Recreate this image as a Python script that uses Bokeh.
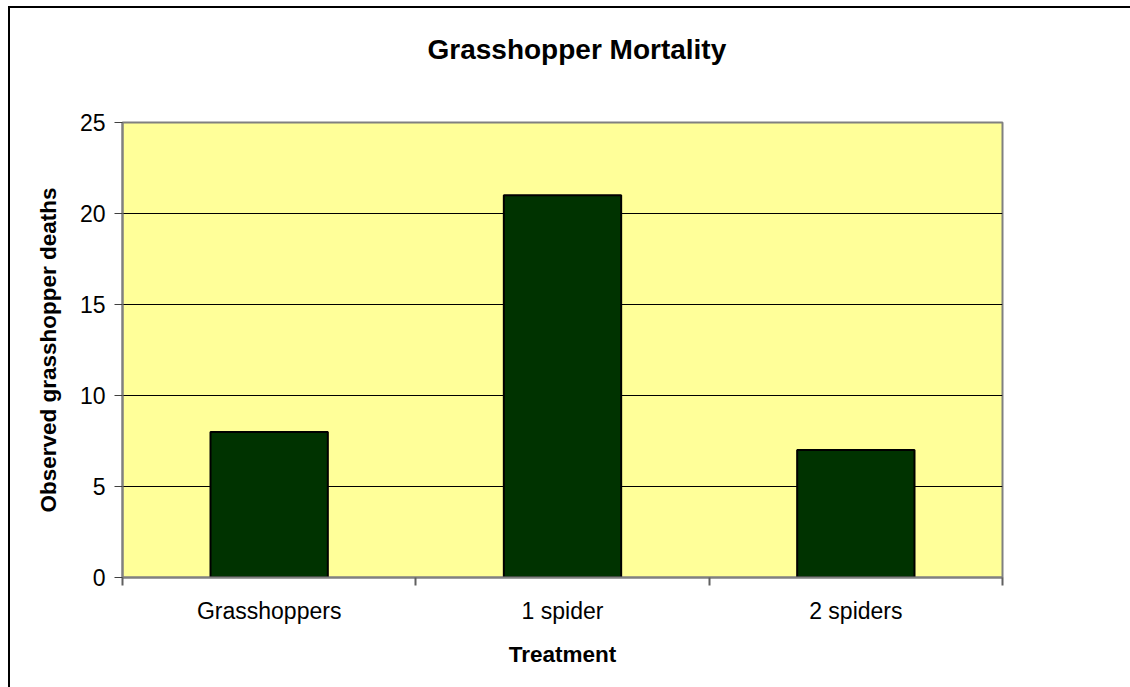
from bokeh.plotting import figure
from bokeh.models import FixedTicker, Range1d, ColumnDataSource, Title
from bokeh.embed import file_html
from bokeh.resources import INLINE

title_text = "Grasshopper Mortality"
categories = ["Grasshoppers", "1 spider", "2 spiders"]
deaths = [8, 21, 7]
y_ticks = [0, 5, 10, 15, 20, 25]

positions = [i + 0.5 for i in range(len(categories))]
src = ColumnDataSource(dict(x=positions, top=deaths, cat=categories))

FONT = "Liberation Sans"

p = figure(width=1130, height=687, output_backend="svg", toolbar_location=None,
           x_range=Range1d(0, len(categories)), y_range=Range1d(0, 25),
           min_border_left=122, min_border_right=128, min_border_top=122, min_border_bottom=110)

# outer chart-area border (top and left edges visible), drawn behind a transparent canvas border
p.styles = {
    "background": ("linear-gradient(#000,#000) 8px 6px / 3000px 2px no-repeat, "
                   "linear-gradient(#000,#000) 8px 6px / 2px 3000px no-repeat, #fff"),
}
p.border_fill_alpha = 0

# spacer (nearest the frame) then the real title further out
p.add_layout(Title(text=" ", text_font_size="10px", standoff=40), "above")
p.add_layout(Title(text=title_text, align="left", offset=305, standoff=10,
                   text_font=FONT, text_font_size="28px", text_font_style="bold",
                   text_color="#000000"), "above")

p.background_fill_color = "#FFFF99"
p.outline_line_color = "#808080"
p.outline_line_width = 2

p.vbar(x="x", top="top", width=0.4, bottom=0, source=src,
       fill_color="#003300", line_color="#000000", line_width=2)

# y axis
p.yaxis.ticker = FixedTicker(ticks=y_ticks, minor_ticks=[])
p.yaxis.axis_line_color = "#808080"
p.yaxis.axis_line_width = 2
p.yaxis.major_tick_out = 8
p.yaxis.major_tick_in = 0
p.yaxis.major_tick_line_color = "#404040"
p.yaxis.major_label_standoff = 9
p.yaxis.major_label_text_font = FONT
p.yaxis.major_label_text_font_size = "23px"
p.yaxis.major_label_text_color = "#000000"
p.yaxis.axis_label = "Observed grasshopper deaths"
p.yaxis.axis_label_text_font = FONT
p.yaxis.axis_label_text_font_size = "22.5px"
p.yaxis.axis_label_text_font_style = "bold"
p.yaxis.axis_label_text_color = "#000000"
p.yaxis.axis_label_standoff = 16

# x axis
p.xaxis.ticker = FixedTicker(ticks=positions, minor_ticks=list(range(len(categories) + 1)))
p.xaxis.major_label_overrides = {pos: c for pos, c in zip(positions, categories)}
p.xaxis.axis_line_color = "#808080"
p.xaxis.axis_line_width = 2
p.xaxis.major_tick_out = 0
p.xaxis.major_tick_in = 0
p.xaxis.minor_tick_out = 8
p.xaxis.minor_tick_in = 0
p.xaxis.minor_tick_line_color = "#606060"
p.xaxis.minor_tick_line_width = 2
p.xaxis.major_label_standoff = 12
p.xaxis.major_label_text_font = FONT
p.xaxis.major_label_text_font_size = "23px"
p.xaxis.major_label_text_color = "#000000"
p.xaxis.axis_label = "Treatment"
p.xaxis.axis_label_text_font = FONT
p.xaxis.axis_label_text_font_size = "22.5px"
p.xaxis.axis_label_text_font_style = "bold"
p.xaxis.axis_label_text_color = "#000000"
p.xaxis.axis_label_standoff = 15

p.xgrid.grid_line_color = None
p.ygrid.ticker = FixedTicker(ticks=[5, 10, 15, 20])
p.ygrid.grid_line_color = "#000000"
p.ygrid.grid_line_width = 1

open("out.html", "w").write(file_html(p, INLINE))
